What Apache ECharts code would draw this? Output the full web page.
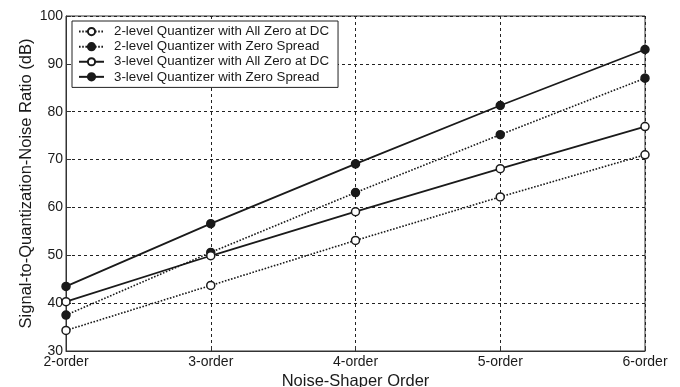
<!DOCTYPE html>
<html>
<head>
<meta charset="utf-8">
<script src="https://cdn.jsdelivr.net/npm/echarts@6/dist/echarts.min.js"></script>
<style>
  html, body { margin: 0; padding: 0; background: #fff; }
  #chart { width: 680px; height: 387px; }
</style>
</head>
<body>
<div id="chart"></div>
<script>
// Noise-shaper order on the x axis
const orders = ['2-order', '3-order', '4-order', '5-order', '6-order'];

// SQNR in dB for each quantizer configuration
const twoLevelDC = [34.3, 43.7, 53.1, 62.2, 71.0];
const twoLevelSpread = [37.5, 50.6, 63.1, 75.2, 87.0];
const threeLevelDC = [40.3, 49.9, 59.1, 68.1, 76.9];
const threeLevelSpread = [43.5, 56.6, 69.1, 81.3, 93.0];

const seriesNames = [
  '2-level Quantizer with All Zero at DC',
  '2-level Quantizer with Zero Spread',
  '3-level Quantizer with All Zero at DC',
  '3-level Quantizer with Zero Spread'
];

const FONT = '"Liberation Sans", Arial, sans-serif';
const INK = '#1a1a1a';

function makeSeries(name, data, dotted, filled) {
  return {
    name: name,
    type: 'line',
    data: data,
    symbol: 'circle',
    symbolSize: 8,
    showSymbol: true,
    lineStyle: {
      color: INK,
      width: dotted ? 1.6 : 1.8,
      type: dotted ? [1.6, 1.6] : 'solid'
    },
    itemStyle: {
      color: filled ? INK : '#fff',
      borderColor: INK,
      borderWidth: 1.5
    },
    emphasis: { disabled: true },
    animation: false
  };
}

const chart = echarts.init(document.getElementById('chart'), null, { renderer: 'canvas' });

chart.setOption({
  backgroundColor: '#fff',
  animation: false,
  textStyle: { fontFamily: FONT },
  grid: {
    left: 66, right: 35, top: 16, bottom: 36,
    outerBoundsMode: 'none',
    containLabel: false,
    show: true, borderColor: '#333', borderWidth: 1
  },
  legend: {
    orient: 'vertical',
    left: 72, top: 21,
    backgroundColor: '#fff',
    borderColor: '#222', borderWidth: 1,
    padding: [3, 9, 3, 6],
    itemGap: 0,
    itemWidth: 25, itemHeight: 9,
    textStyle: {
      fontFamily: FONT, fontSize: 13.3, color: INK,
      lineHeight: 15.1, padding: [0, 0, 0, 5]
    },
    data: seriesNames
  },
  xAxis: {
    type: 'category',
    data: orders,
    boundaryGap: false,
    name: 'Noise-Shaper Order',
    nameLocation: 'middle',
    nameGap: 22,
    nameMoveOverlap: false,
    nameTextStyle: { fontFamily: FONT, fontSize: 16.5, color: INK },
    axisLine: { lineStyle: { color: '#333', width: 1 } },
    axisTick: { inside: true, length: 5, lineStyle: { color: '#333' } },
    axisLabel: { fontFamily: FONT, fontSize: 14, color: INK, margin: 4 },
    splitLine: { show: true, lineStyle: { color: '#222', type: [3, 3], width: 1 } }
  },
  yAxis: {
    type: 'value',
    min: 30, max: 100, interval: 10,
    name: 'Signal-to-Quantization-Noise Ratio (dB)',
    nameLocation: 'middle',
    nameGap: 31,
    nameMoveOverlap: false,
    nameTextStyle: { fontFamily: FONT, fontSize: 16.5, color: INK },
    axisLine: { show: true, lineStyle: { color: '#333', width: 1 } },
    axisTick: { show: true, inside: true, length: 5, lineStyle: { color: '#333' } },
    axisLabel: { fontFamily: FONT, fontSize: 14, color: INK, margin: 3 },
    splitLine: { show: true, lineStyle: { color: '#222', type: [3, 3], width: 1 } }
  },
  series: [
    makeSeries(seriesNames[0], twoLevelDC, true, false),
    makeSeries(seriesNames[1], twoLevelSpread, true, true),
    makeSeries(seriesNames[2], threeLevelDC, false, false),
    makeSeries(seriesNames[3], threeLevelSpread, false, true)
  ]
});
</script>
</body>
</html>
